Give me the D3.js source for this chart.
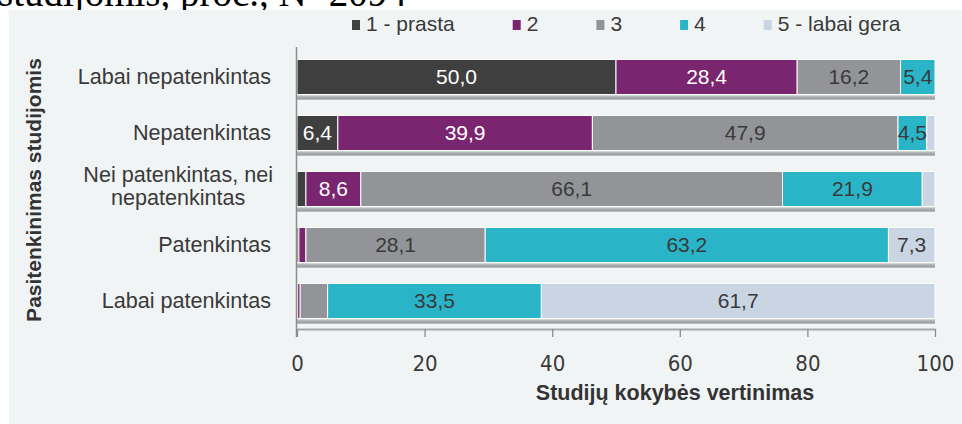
<!DOCTYPE html>
<html>
<head>
<meta charset="utf-8">
<script src="https://cdn.jsdelivr.net/npm/d3@7"></script>
<style>
  html, body { margin: 0; padding: 0; background: #ffffff; }
  svg { display: block; }
</style>
</head>
<body>
<svg id="chart" width="962" height="424"></svg>
<script>
// ---------- data ----------
const categories = [
  ["Labai nepatenkintas"],
  ["Nepatenkintas"],
  ["Nei patenkintas, nei", "nepatenkintas"],
  ["Patenkintas"],
  ["Labai patenkintas"]
];
const seriesNames = ["1 - prasta", "2", "3", "4", "5 - labai gera"];
const s1 = [50.0, 6.4, 1.4, 0.3, 0.1];
const s2 = [28.4, 39.9, 8.6, 1.1, 0.4];
const s3 = [16.2, 47.9, 66.1, 28.1, 4.3];
const s4 = [5.4, 4.5, 21.9, 63.2, 33.5];
const s5 = [0.0, 1.3, 2.0, 7.3, 61.7];
const xTicks = [0, 20, 40, 60, 80, 100];
const headerText = "studijomis, proc., N=2094";
const xTitle = "Studijų kokybės vertinimas";
const yTitle = "Pasitenkinimas studijomis";

// ---------- styles ----------
const colors = ["#3f3f3f", "#7a2570", "#939497", "#29b4c8", "#c9d5e3"];
const labelColors = ["#ffffff", "#ffffff", "#3a3a3a", "#3a3a3a", "#3a3a3a"];
const FONT = "'Liberation Sans', Arial, sans-serif";
const NARROW = "'Liberation Sans Narrow', 'Arial Narrow', 'DejaVu Sans Condensed', sans-serif";
const textColor = "#3a3a3a";

const svg = d3.select("#chart");

// header text (clipped by the panel, as in the source)
svg.append("text")
  .attr("x", -2).attr("y", 6)
  .attr("font-family", "'Liberation Serif', 'Times New Roman', serif")
  .attr("font-size", 39)
  .attr("fill", "#000")
  .text(headerText);

// panel
svg.append("rect")
  .attr("x", 9).attr("y", 10).attr("width", 953).attr("height", 414)
  .attr("fill", "#f1f4f5");

// scales
const keys = categories.map(c => c.join(" "));
const x = d3.scaleLinear().domain([0, 100]).range([297, 935]);
const y = d3.scaleBand().domain(keys).range([49, 329])
  .paddingInner(0.375).paddingOuter(0.1875);

const seriesData = [s1, s2, s3, s4, s5];
const rows = keys.map((k, i) => {
  const o = { key: k };
  seriesNames.forEach((s, j) => o[s] = seriesData[j][i]);
  return o;
});
const stacked = d3.stack().keys(seriesNames)(rows);

const locale = d3.formatLocale({ decimal: ",", thousands: " ", grouping: [3], currency: ["", ""] });
const fmt = locale.format(".1f");

// shadows under bars
svg.append("g").selectAll("rect")
  .data(keys)
  .join("rect")
  .attr("x", x(0) - 1)
  .attr("y", d => y(d) + y.bandwidth() + 1)
  .attr("width", x(100) - x(0) + 1)
  .attr("height", 4)
  .attr("fill", "#b4b6b8");
svg.append("g").selectAll("rect")
  .data(keys)
  .join("rect")
  .attr("x", x(0) - 1)
  .attr("y", d => y(d) + y.bandwidth() + 3)
  .attr("width", x(100) - x(0) + 1)
  .attr("height", 2)
  .attr("fill", "#9d9fa1");

// bars
const gBars = svg.append("g");
stacked.forEach((layer, j) => {
  gBars.append("g")
    .selectAll("rect")
    .data(layer)
    .join("rect")
    .attr("x", d => x(d[0]))
    .attr("y", d => y(d.data.key))
    .attr("width", d => Math.max(0, x(d[1]) - x(d[0])))
    .attr("height", y.bandwidth())
    .attr("fill", colors[j])
    .attr("stroke", "#ffffff")
    .attr("stroke-width", 1);
});

// bar labels
stacked.forEach((layer, j) => {
  gBars.append("g")
    .selectAll("text")
    .data(layer.filter(d => d[1] - d[0] >= 4.45))
    .join("text")
    .attr("x", d => (x(d[0]) + x(d[1])) / 2)
    .attr("y", d => y(d.data.key) + y.bandwidth() / 2 + 7)
    .attr("text-anchor", "middle")
    .attr("font-family", FONT)
    .attr("font-size", 21)
    .attr("fill", labelColors[j])
    .text(d => fmt(d[1] - d[0]));
});

// vertical axis line
svg.append("line")
  .attr("x1", 296.5).attr("x2", 296.5)
  .attr("y1", 47).attr("y2", 337)
  .attr("stroke", "#8c8c8c").attr("stroke-width", 1.5);

// x axis
const xAxis = svg.append("g")
  .attr("transform", "translate(0,329)")
  .call(d3.axisBottom(x).tickValues(xTicks).tickSize(8).tickSizeOuter(0).tickPadding(18)
    .tickFormat(d3.format("d")));
xAxis.select(".domain").attr("stroke", "#a5a7a9").attr("stroke-width", 2);
xAxis.selectAll(".tick line").attr("stroke", "#8c8c8c").attr("stroke-width", 1.3);
xAxis.selectAll(".tick text")
  .attr("font-family", NARROW)
  .attr("font-size", 22)
  .attr("fill", "#3a3a3a");

// x title
svg.append("text")
  .attr("x", 675).attr("y", 400)
  .attr("text-anchor", "middle")
  .attr("font-family", FONT)
  .attr("font-weight", "bold")
  .attr("font-size", 21.5)
  .attr("fill", "#333")
  .text(xTitle);

// y title
svg.append("text")
  .attr("transform", "translate(41,190) rotate(-90)")
  .attr("text-anchor", "middle")
  .attr("font-family", FONT)
  .attr("font-weight", "bold")
  .attr("font-size", 21)
  .attr("fill", "#333")
  .text(yTitle);

// category labels
const CAT_SIZE = 21.6;
const gCat = svg.append("g");
categories.forEach((lines, i) => {
  const cy = y(keys[i]) + y.bandwidth() / 2;
  if (lines.length === 1) {
    gCat.append("text")
      .attr("x", 271).attr("y", cy + 7)
      .attr("text-anchor", "end")
      .attr("font-family", FONT).attr("font-size", CAT_SIZE)
      .attr("fill", textColor)
      .text(lines[0]);
  } else {
    const t1 = gCat.append("text")
      .attr("y", cy - 7)
      .attr("text-anchor", "middle")
      .attr("font-family", FONT).attr("font-size", CAT_SIZE)
      .attr("fill", textColor)
      .text(lines[0]);
    const w = t1.node().getComputedTextLength();
    const cx = 273 - w / 2;
    t1.attr("x", cx);
    gCat.append("text")
      .attr("x", cx).attr("y", cy + 16)
      .attr("text-anchor", "middle")
      .attr("font-family", FONT).attr("font-size", CAT_SIZE)
      .attr("fill", textColor)
      .text(lines[1]);
  }
});

// legend
const gLeg = svg.append("g");
let lx = 352;
seriesNames.forEach((name, j) => {
  gLeg.append("rect")
    .attr("x", lx).attr("y", 20).attr("width", 8).attr("height", 10)
    .attr("fill", colors[j]);
  const t = gLeg.append("text")
    .attr("x", lx + 14).attr("y", 31)
    .attr("font-family", FONT).attr("font-size", 21)
    .attr("fill", textColor)
    .text(name);
  lx = lx + 14 + t.node().getComputedTextLength() + 58;
});
</script>
</body>
</html>
